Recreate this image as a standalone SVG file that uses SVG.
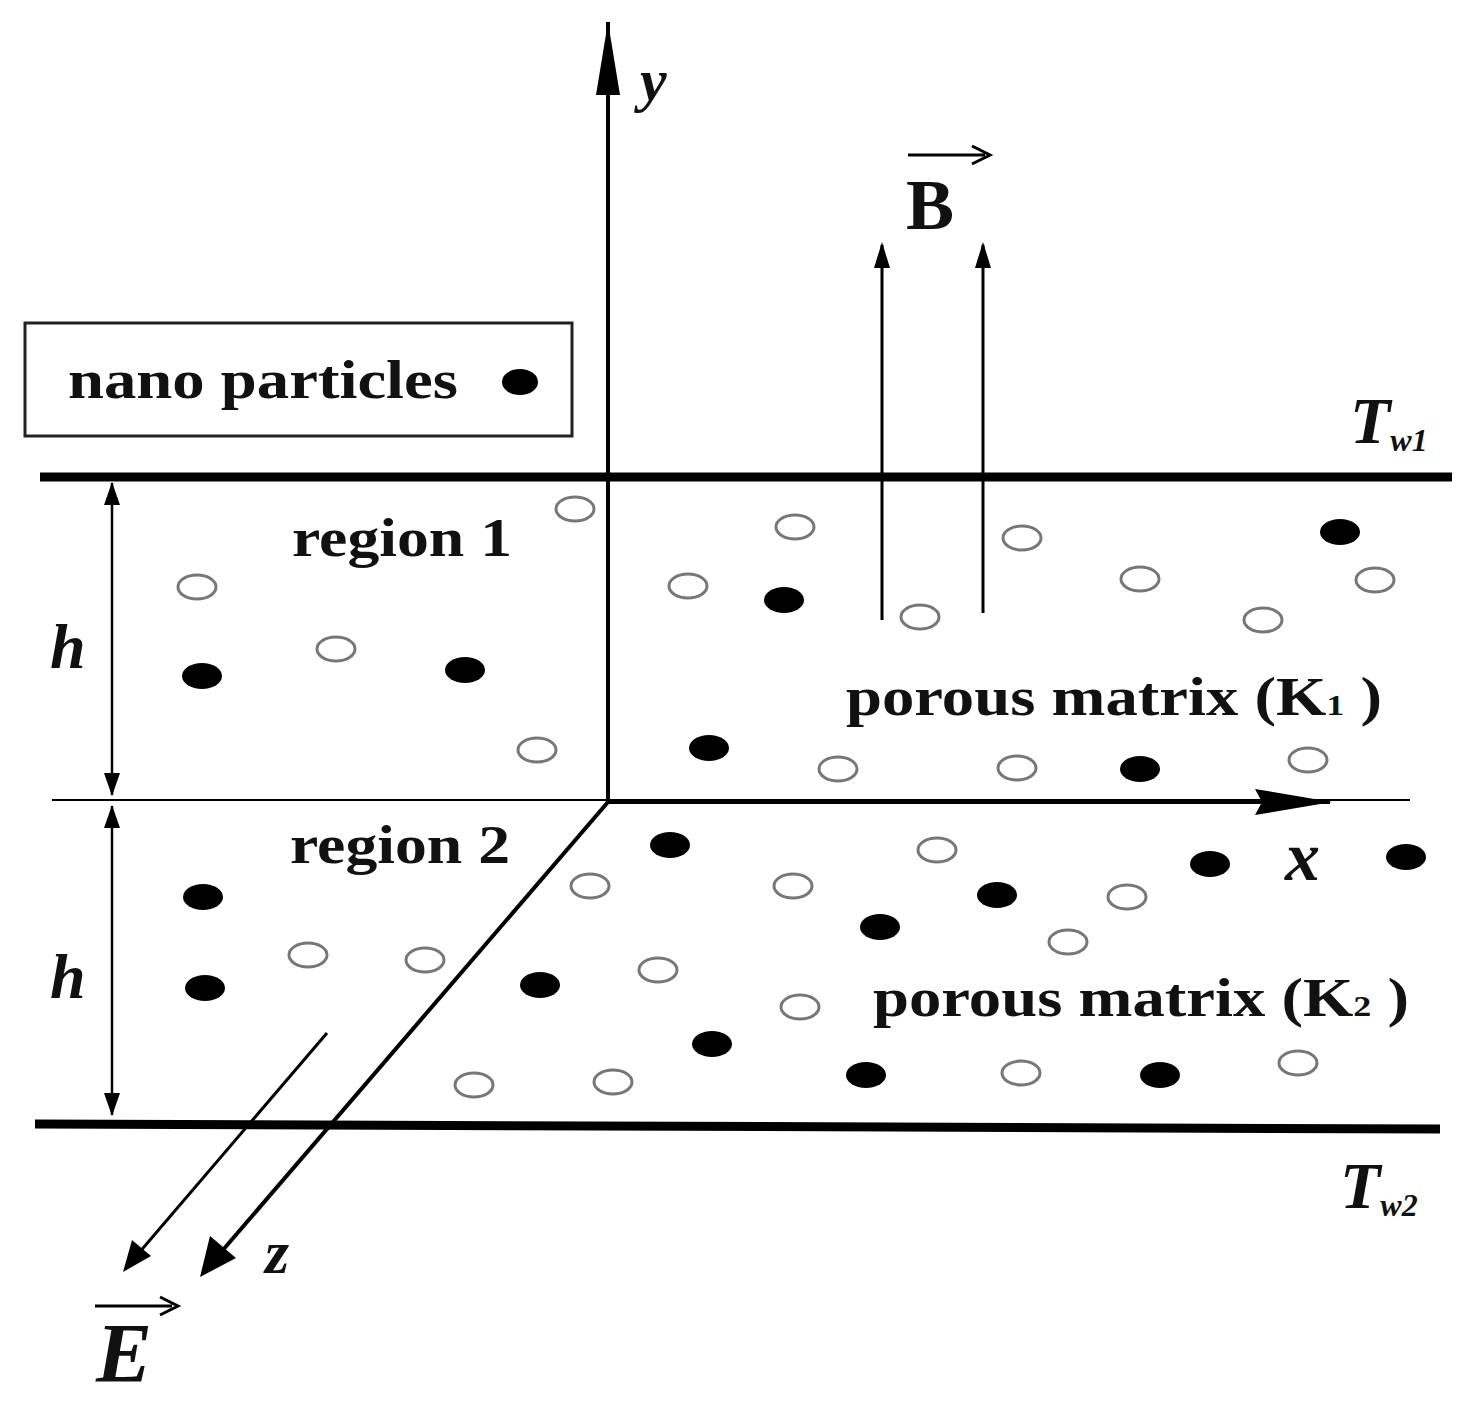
<svg xmlns="http://www.w3.org/2000/svg" width="1466" height="1411" viewBox="0 0 1466 1411">
<style>
.f{fill:#000}
.o{fill:none;stroke:#777;stroke-width:3}
.t{font-family:"Liberation Serif",serif;font-weight:bold;font-size:54px;fill:#111}
.i{font-family:"Liberation Serif",serif;font-style:italic;font-weight:bold;fill:#111}
</style>
<rect width="1466" height="1411" fill="#fff"/>
<g id="walls">
<line x1="40" y1="477" x2="1452" y2="477" stroke="#000" stroke-width="9"/>
<line x1="52" y1="800" x2="1410" y2="800" stroke="#000" stroke-width="2"/>
<line x1="35" y1="1124" x2="1440" y2="1129" stroke="#000" stroke-width="9"/>
</g>
<g id="connectors" stroke="#000" fill="none">
<line x1="608" y1="804" x2="608" y2="22" stroke-width="4"/>
<path d="M608,22 L620,95 L596,95 Z" fill="#000" stroke="none"/>
<line x1="606" y1="802" x2="1330" y2="802" stroke-width="4"/>
<path d="M1332,802 L1255,815 L1262,802 L1255,789 Z" fill="#000" stroke="none"/>
<line x1="608" y1="802" x2="204" y2="1272" stroke-width="4"/>
<path d="M200,1277 L210,1236 L236,1258 Z" fill="#000" stroke="none"/>
<line x1="327" y1="1033" x2="126" y2="1268" stroke-width="3"/>
<path d="M123,1272 L132,1240 L151,1256 Z" fill="#000" stroke="none"/>
<line x1="112" y1="483" x2="112" y2="795" stroke-width="2.5"/>
<path d="M112,482 L104,505 L120,505 Z M112,796 L104,773 L120,773 Z" fill="#000" stroke="none"/>
<line x1="112" y1="806" x2="112" y2="1115" stroke-width="2.5"/>
<path d="M112,805 L104,828 L120,828 Z M112,1116 L104,1093 L120,1093 Z" fill="#000" stroke="none"/>
<line x1="882" y1="620" x2="882" y2="245" stroke-width="3"/>
<path d="M882,242 L874,268 L890,268 Z" fill="#000" stroke="none"/>
<line x1="983" y1="613" x2="983" y2="245" stroke-width="3"/>
<path d="M983,242 L975,268 L991,268 Z" fill="#000" stroke="none"/>
</g>
<g id="legend">
<rect x="25" y="323" width="547" height="113" fill="#fff" stroke="#222" stroke-width="3"/>
<text class="t" x="68" y="398" textLength="390" lengthAdjust="spacingAndGlyphs">nano particles</text>
<ellipse class="f" cx="520" cy="382" rx="18" ry="13"/>
</g>
<g id="labels">
<text class="i" x="640" y="100" font-size="60">y</text>
<text class="t" x="906" y="229" style="font-size:72px">B</text>
<path d="M908,155 H985 M972,146 L990,155 L972,164" stroke="#000" stroke-width="3" fill="none"/>
<text class="i" x="1350" y="443" font-size="66">T<tspan font-size="32" dy="8">w1</tspan></text>
<text class="t" x="292" y="556" textLength="220" lengthAdjust="spacingAndGlyphs">region 1</text>
<text class="t" x="290" y="863" textLength="220" lengthAdjust="spacingAndGlyphs">region 2</text>
<text class="t" x="846" y="715" textLength="536" lengthAdjust="spacingAndGlyphs">porous matrix (K<tspan style="font-size:30px">1</tspan> )</text>
<text class="t" x="873" y="1016" textLength="536" lengthAdjust="spacingAndGlyphs">porous matrix (K<tspan style="font-size:30px">2</tspan> )</text>
<text class="i" x="50" y="668" font-size="64">h</text>
<text class="i" x="50" y="998" font-size="64">h</text>
<text class="i" x="1285" y="880" font-size="70">x</text>
<text class="i" x="265" y="1273" font-size="62">z</text>
<text class="i" x="1340" y="1208" font-size="66">T<tspan font-size="32" dy="8">w2</tspan></text>
<text class="i" x="96" y="1382" font-size="84">E</text>
<path d="M95,1306 H172 M160,1297 L178,1306 L160,1315" stroke="#000" stroke-width="3" fill="none"/>
</g>
<g id="particles">
<ellipse class="f" cx="202" cy="676" rx="20" ry="13"/><ellipse class="f" cx="465" cy="670" rx="20" ry="13"/>
<ellipse class="f" cx="784" cy="600" rx="20" ry="13"/><ellipse class="f" cx="1340" cy="532" rx="20" ry="13"/>
<ellipse class="f" cx="709" cy="748" rx="20" ry="13"/><ellipse class="f" cx="1140" cy="769" rx="20" ry="13"/>
<ellipse class="f" cx="670" cy="845" rx="20" ry="13"/><ellipse class="f" cx="1210" cy="864" rx="20" ry="13"/>
<ellipse class="f" cx="1406" cy="857" rx="20" ry="13"/><ellipse class="f" cx="997" cy="895" rx="20" ry="13"/>
<ellipse class="f" cx="880" cy="927" rx="20" ry="13"/><ellipse class="f" cx="203" cy="897" rx="20" ry="13"/>
<ellipse class="f" cx="205" cy="988" rx="20" ry="13"/><ellipse class="f" cx="540" cy="985" rx="20" ry="13"/>
<ellipse class="f" cx="712" cy="1044" rx="20" ry="13"/><ellipse class="f" cx="866" cy="1075" rx="20" ry="13"/>
<ellipse class="f" cx="1160" cy="1075" rx="20" ry="13"/>
<ellipse class="o" cx="575" cy="509" rx="19" ry="12"/><ellipse class="o" cx="197" cy="587" rx="19" ry="12"/>
<ellipse class="o" cx="336" cy="649" rx="19" ry="12"/><ellipse class="o" cx="537" cy="750" rx="19" ry="12"/>
<ellipse class="o" cx="688" cy="586" rx="19" ry="12"/><ellipse class="o" cx="795" cy="527" rx="19" ry="12"/>
<ellipse class="o" cx="920" cy="617" rx="19" ry="12"/><ellipse class="o" cx="1022" cy="538" rx="19" ry="12"/>
<ellipse class="o" cx="1140" cy="579" rx="19" ry="12"/><ellipse class="o" cx="1263" cy="620" rx="19" ry="12"/>
<ellipse class="o" cx="1375" cy="580" rx="19" ry="12"/><ellipse class="o" cx="838" cy="769" rx="19" ry="12"/>
<ellipse class="o" cx="1017" cy="768" rx="19" ry="12"/><ellipse class="o" cx="1308" cy="760" rx="19" ry="12"/>
<ellipse class="o" cx="937" cy="850" rx="19" ry="12"/><ellipse class="o" cx="590" cy="886" rx="19" ry="12"/>
<ellipse class="o" cx="793" cy="886" rx="19" ry="12"/><ellipse class="o" cx="1127" cy="897" rx="19" ry="12"/>
<ellipse class="o" cx="1068" cy="942" rx="19" ry="12"/><ellipse class="o" cx="308" cy="955" rx="19" ry="12"/>
<ellipse class="o" cx="425" cy="960" rx="19" ry="12"/><ellipse class="o" cx="658" cy="970" rx="19" ry="12"/>
<ellipse class="o" cx="800" cy="1007" rx="19" ry="12"/><ellipse class="o" cx="474" cy="1085" rx="19" ry="12"/>
<ellipse class="o" cx="613" cy="1082" rx="19" ry="12"/><ellipse class="o" cx="1021" cy="1073" rx="19" ry="12"/>
<ellipse class="o" cx="1298" cy="1063" rx="19" ry="12"/>
</g>
</svg>
